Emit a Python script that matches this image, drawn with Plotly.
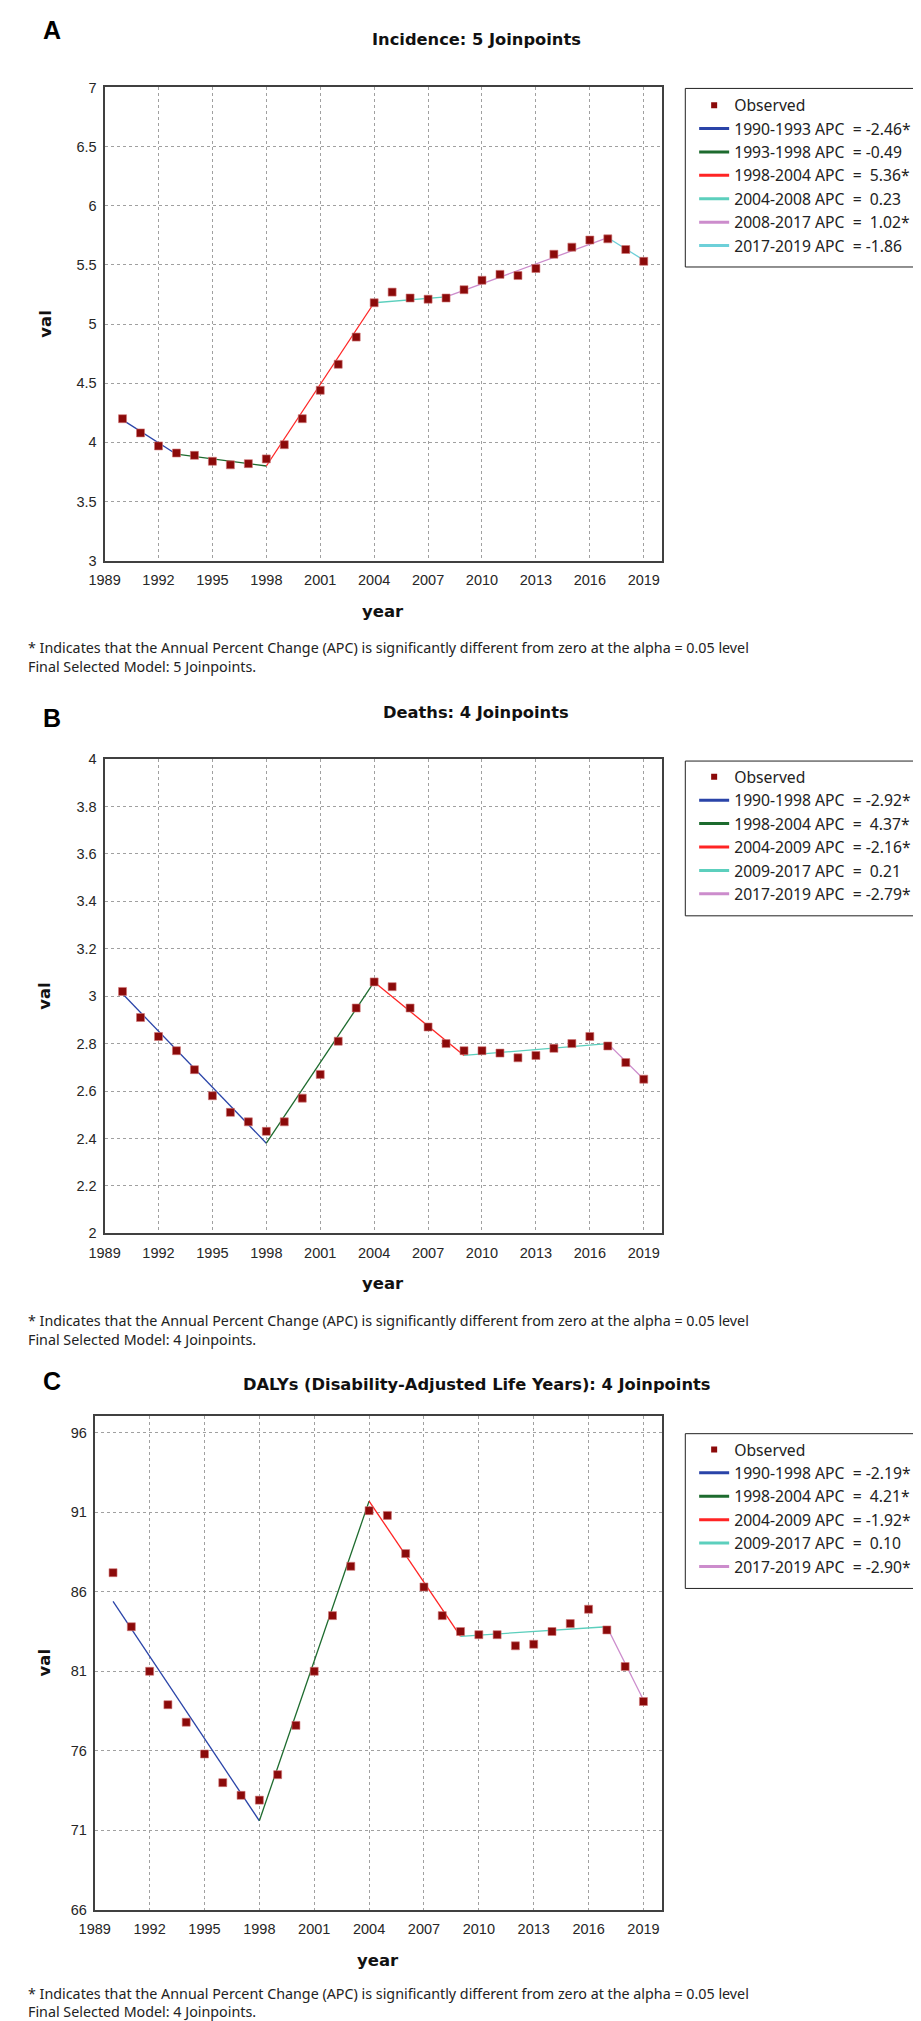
import plotly.graph_objects as go

years = list(range(1990, 2020))
tick_years = list(range(1989, 2020, 3))

incidence_obs = [4.20, 4.08, 3.97, 3.91, 3.89, 3.84, 3.81, 3.82, 3.86, 3.98,
                 4.20, 4.44, 4.66, 4.89, 5.18, 5.27, 5.22, 5.21, 5.22, 5.29,
                 5.37, 5.42, 5.41, 5.47, 5.59, 5.65, 5.71, 5.72, 5.63, 5.53]
incidence_jp_years = [1990, 1993, 1998, 2004, 2008, 2017, 2019]
incidence_jp_fit = [4.19, 3.90, 3.80, 5.18, 5.23, 5.73, 5.54]
incidence_apc = ["-2.46*", "-0.49", "5.36*", "0.23", "1.02*", "-1.86"]

deaths_obs = [3.02, 2.91, 2.83, 2.77, 2.69, 2.58, 2.51, 2.47, 2.43, 2.47,
              2.57, 2.67, 2.81, 2.95, 3.06, 3.04, 2.95, 2.87, 2.80, 2.77,
              2.77, 2.76, 2.74, 2.75, 2.78, 2.80, 2.83, 2.79, 2.72, 2.65]
deaths_jp_years = [1990, 1998, 2004, 2009, 2017, 2019]
deaths_jp_fit = [3.01, 2.38, 3.06, 2.75, 2.80, 2.65]
deaths_apc = ["-2.92*", "4.37*", "-2.16*", "0.21", "-2.79*"]

dalys_obs = [87.2, 83.8, 81.0, 78.9, 77.8, 75.8, 74.0, 73.2, 72.9, 74.5,
             77.6, 81.0, 84.5, 87.6, 91.1, 90.8, 88.4, 86.3, 84.5, 83.5,
             83.3, 83.3, 82.6, 82.7, 83.5, 84.0, 84.9, 83.6, 81.3, 79.1]
dalys_jp_years = [1990, 1998, 2004, 2009, 2017, 2019]
dalys_jp_fit = [85.4, 71.6, 91.7, 83.2, 83.8, 79.2]
dalys_apc = ["-2.19*", "4.21*", "-1.92*", "0.10", "-2.90*"]

seg_colors = ['#2a44a8', '#1d6b2e', '#ff2424', '#5ccfbd', '#cc8ccc', '#6dd0d9']
obs_color = '#8b0a0a'

W, H = 921, 2021


def px(x):
    return x / W


def py(y):
    return 1 - y / H


fig = go.Figure()


def add_panel(n, obs, jp_years, jp_fit, apc, legend_name):
    xa = 'x' if n == 1 else 'x%d' % n
    ya = 'y' if n == 1 else 'y%d' % n
    # legend-only entries (thicker samples, like the original)
    fig.add_trace(go.Scatter(x=[None], y=[None], mode='markers', name='Observed',
                             marker=dict(symbol='square', size=6, color=obs_color),
                             xaxis=xa, yaxis=ya, legend=legend_name))
    for i in range(len(apc)):
        sign_pad = '\u00a0' if not apc[i].startswith('-') else ''
        label = '%d-%d APC\u00a0\u00a0=\u00a0%s%s' % (jp_years[i], jp_years[i + 1], sign_pad, apc[i])
        fig.add_trace(go.Scatter(x=[None], y=[None], mode='lines', name=label,
                                 line=dict(color=seg_colors[i], width=3),
                                 xaxis=xa, yaxis=ya, legend=legend_name))
    # fitted segments
    for i in range(len(apc)):
        fig.add_trace(go.Scatter(x=jp_years[i:i + 2], y=jp_fit[i:i + 2], mode='lines',
                                 line=dict(color=seg_colors[i], width=1.3),
                                 showlegend=False, xaxis=xa, yaxis=ya))
    # observed points
    fig.add_trace(go.Scatter(x=years, y=obs, mode='markers', showlegend=False,
                             marker=dict(symbol='square', size=8, color=obs_color,
                                         line=dict(color='rgba(210,120,120,0.6)', width=1)),
                             xaxis=xa, yaxis=ya))


add_panel(1, incidence_obs, incidence_jp_years, incidence_jp_fit, incidence_apc, 'legend')
add_panel(2, deaths_obs, deaths_jp_years, deaths_jp_fit, deaths_apc, 'legend2')
add_panel(3, dalys_obs, dalys_jp_years, dalys_jp_fit, dalys_apc, 'legend3')

# panel geometry in pixels: (left, top, bottom, y range, y dtick, footnote offsets)
panels = [
    (82, 72, 549, [3, 7], 0.5, (88, 107)),
    (82, 749, 1227, [2, 4], 0.2, (88, 107)),
    (72, 1411, 1909, [66, 97.06], 5, (84, 102)),
]
plot_right = 649

axis_common = dict(showline=True, mirror=True, linecolor='#404040', linewidth=2,
                   showgrid=True, gridcolor='#a0a0a0', griddash='dot', gridwidth=1,
                   zeroline=False, ticks='outside', ticklen=5, tickcolor='rgba(0,0,0,0)',
                   tickfont=dict(family='Liberation Sans, Arial', size=14.5, color='#262626'))

layout_axes = {}
for n, (left, top, bottom, yr, dt, fn) in enumerate(panels, start=1):
    sfx = '' if n == 1 else str(n)
    layout_axes['xaxis' + sfx] = dict(axis_common, domain=[px(left), px(plot_right)],
                                      range=[1989, 2020], tickvals=tick_years,
                                      anchor='y' + sfx)
    layout_axes['yaxis' + sfx] = dict(axis_common, domain=[py(bottom), py(top)],
                                      range=yr, tick0=yr[0], dtick=dt,
                                      anchor='x' + sfx, ticklen=3)

fig.update_layout(**layout_axes)

legend_common = dict(xanchor='left', yanchor='top', bgcolor='rgba(0,0,0,0)',
                     borderwidth=0, traceorder='normal',
                     font=dict(family='Noto Sans', size=15.7, color='#222222'))
legend_tops = [73, 750, 1428]
fig.update_layout(
    legend=dict(legend_common, x=px(682), y=py(legend_tops[0])),
    legend2=dict(legend_common, x=px(682), y=py(legend_tops[1])),
    legend3=dict(legend_common, x=px(682), y=py(legend_tops[2])),
)

# legend boxes
legend_boxes = [(73, 253), (751, 907), (1429, 1585)]
shapes = []
for top, bottom in legend_boxes:
    shapes.append(dict(type='rect', xref='paper', yref='paper',
                       x0=px(673), x1=px(915), y0=py(bottom), y1=py(top),
                       line=dict(color='#222222', width=1)))

titles = ['Incidence: 5 Joinpoints', 'Deaths: 4 Joinpoints',
          'DALYs (Disability-Adjusted Life Years): 4 Joinpoints']
title_y = [24, 702, 1379]
letters = ['A', 'B', 'C']
letter_y = [14, 708, 1376]
models = ['Final Selected Model: 5 Joinpoints.', 'Final Selected Model: 4 Joinpoints.',
          'Final Selected Model: 4 Joinpoints.']
note = '* Indicates that the Annual Percent Change (APC) is significantly different from zero at the alpha = 0.05 level'

annotations = []
for n, (left, top, bottom, yr, dt, fn) in enumerate(panels):
    annotations.append(dict(text='<b>%s</b>' % titles[n], x=px(460), y=py(title_y[n]),
                            xref='paper', yref='paper', showarrow=False,
                            xanchor='center', yanchor='middle',
                            font=dict(family='DejaVu Sans', size=16.3, color='#111111')))
    annotations.append(dict(text='<b>%s</b>' % letters[n], x=px(28), y=py(letter_y[n]),
                            xref='paper', yref='paper', showarrow=False,
                            xanchor='center', yanchor='middle',
                            font=dict(family='Liberation Sans, Arial', size=25, color='#000000')))
    annotations.append(dict(text='<b>year</b>', x=px((left + plot_right) / 2), y=py(bottom + 51),
                            xref='paper', yref='paper', showarrow=False,
                            xanchor='center', yanchor='middle',
                            font=dict(family='DejaVu Sans', size=16.5, color='#111111')))
    annotations.append(dict(text='<b>val</b>', x=px(21), y=py((top + bottom) / 2),
                            xref='paper', yref='paper', showarrow=False, textangle=-90,
                            xanchor='center', yanchor='middle',
                            font=dict(family='DejaVu Sans', size=16.5, color='#111111')))
    annotations.append(dict(text=note, x=px(2), y=py(bottom + fn[0]),
                            xref='paper', yref='paper', showarrow=False,
                            xanchor='left', yanchor='middle',
                            font=dict(family='Noto Sans', size=14.3, color='#222222')))
    annotations.append(dict(text=models[n], x=px(2), y=py(bottom + fn[1]),
                            xref='paper', yref='paper', showarrow=False,
                            xanchor='left', yanchor='middle',
                            font=dict(family='Noto Sans', size=14.3, color='#222222')))

fig.update_layout(width=W, height=H, margin=dict(l=0, r=0, t=0, b=0),
                  paper_bgcolor='white', plot_bgcolor='white',
                  shapes=shapes, annotations=annotations, hovermode=False)

fig.write_html('out.html')
